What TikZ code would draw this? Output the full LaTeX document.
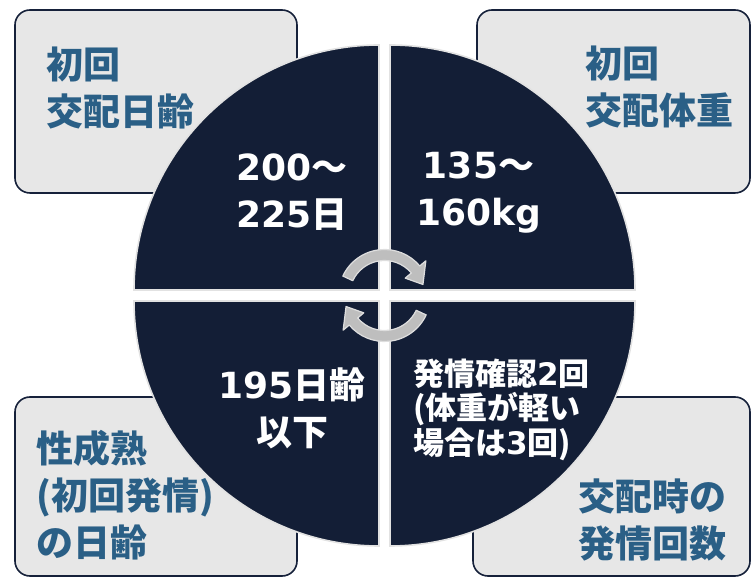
\documentclass[tikz,border=0pt]{standalone}
\usepackage{fontspec}
\setmainfont{Noto Sans CJK JP}
\newfontfamily\latinfont{DejaVu Sans}
\newcommand\lat[1]{{\latinfont #1}}
\usetikzlibrary{calc}

\definecolor{navyfill}{RGB}{19,30,54}
\definecolor{navyline}{RGB}{22,33,58}
\definecolor{boxgray}{RGB}{231,231,231}
\definecolor{rimgray}{RGB}{226,226,226}
\definecolor{labelblue}{RGB}{42,95,134}
\definecolor{arrowgray}{RGB}{190,190,190}
\definecolor{arrowrim}{RGB}{222,222,222}

\begin{document}
\begin{tikzpicture}[
		x=1pt, y=1pt,
		infobox/.style={draw=navyline, line width=1.6pt, fill=boxgray, rounded corners=15pt, inner sep=0},
		quarter/.style={fill=navyfill, draw=rimgray, line width=1.6pt},
		turnarrow/.style={fill=arrowgray, draw=arrowrim, line width=1.2pt, line join=round},
		boxlabel/.style={text=labelblue, font=\bfseries\fontsize{37}{47}\selectfont, align=left, inner sep=0, anchor=west},
		quadlabel/.style={text=white, font=\bfseries\fontsize{36}{47}\selectfont, align=center, inner sep=0},
		quadnote/.style={text=white, font=\bfseries\fontsize{31}{34.5}\selectfont, align=left, inner sep=0, anchor=west}]
		\useasboundingbox (0,0) rectangle (751,577);
		\coordinate (mid) at (384.5,281.5);

		% corner boxes
		\node[infobox, minimum width=282, minimum height=183] (boxTL) at (156,475.5) {};
		\node[infobox, minimum width=273, minimum height=183] (boxTR) at (613.5,475.5) {};
		\node[infobox, minimum width=282, minimum height=179] (boxBL) at (156,90.5) {};
		\node[infobox, minimum width=277, minimum height=179] (boxBR) at (611.5,90.5) {};

		% four quarters of the disc
		\draw[quarter] ($(mid)+(-5.5,5.5)$) -- ++(90:245) arc[start angle=90, end angle=180, radius=245] -- cycle;
		\draw[quarter] ($(mid)+(5.5,5.5)$) -- ++(0:245) arc[start angle=0, end angle=90, radius=245] -- cycle;
		\draw[quarter] ($(mid)+(-5.5,-5.5)$) -- ++(180:245) arc[start angle=180, end angle=270, radius=245] -- cycle;
		\draw[quarter] ($(mid)+(5.5,-5.5)$) -- ++(270:245) arc[start angle=270, end angle=360, radius=245] -- cycle;

		% turning arrows in the middle
		\begin{scope}[shift={(mid)}]
			\draw[turnarrow] (155:46) arc[start angle=155, end angle=40, radius=46] -- (40:54) -- (16:40) -- (40:27) -- (40:35) arc[start angle=40, end angle=155, radius=35] -- cycle;
			\draw[turnarrow] (-25:46) arc[start angle=-25, end angle=-140, radius=46] -- (-140:54) -- (-164:40) -- (-140:27) -- (-140:35) arc[start angle=-140, end angle=-25, radius=35] -- cycle;
		\end{scope}

		% labels
		\node[boxlabel] (txtTL) at (46,488.5) {初回\\交配日齢};
		\node[boxlabel] (txtTR) at (585,489.5) {初回\\交配体重};
		\node[boxlabel] (txtBL) at (36,82) {性成熟\\(初回発情)\\の日齢};
		\node[boxlabel] (txtBR) at (578,57) {交配時の\\発情回数};

		\node[quadlabel] (valTL) at (292,384.5) {\lat{200}～\\\lat{225}日};
		\node[quadlabel] (valTR) at (478.5,384) {\lat{135}～\\\lat{160kg}};
		\node[quadlabel] (valBL) at (292,169) {\lat{195}日齢\\以下};
		\node[quadnote] (valBR) at (413,167.5) {発情確認\lat{2}回\\(体重が軽い\\場合は\lat{3}回)};

\end{tikzpicture}
\end{document}
